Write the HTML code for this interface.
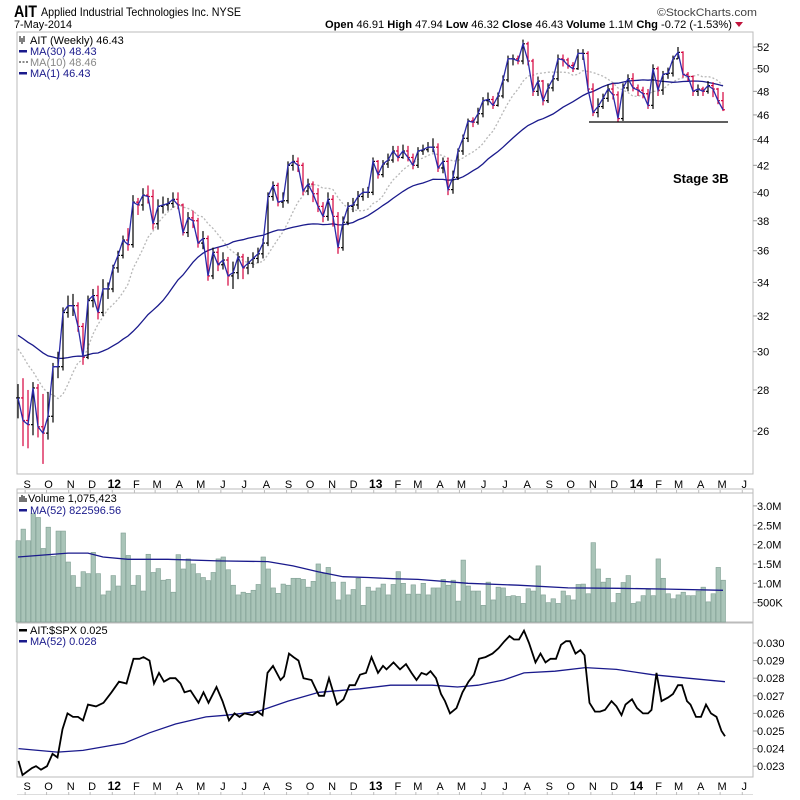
<!DOCTYPE html>
<html><head><meta charset="utf-8"><style>
body{margin:0;background:#fff;width:800px;height:795px;overflow:hidden;font-family:"Liberation Sans",sans-serif;}
svg text{font-family:"Liberation Sans",sans-serif;}
</style></head><body>
<svg id="chart" width="800" height="795" viewBox="0 0 800 795" xmlns="http://www.w3.org/2000/svg">
<rect x="0" y="0" width="800" height="795" fill="#fff"/>
<text x="14" y="17" font-size="17" font-weight="bold" textLength="23" lengthAdjust="spacingAndGlyphs">AIT</text>
<text x="41" y="16" font-size="12" textLength="200" lengthAdjust="spacingAndGlyphs">Applied Industrial Technologies Inc. NYSE</text>
<text x="657" y="16" font-size="11" fill="#444" textLength="100" lengthAdjust="spacingAndGlyphs">©StockCharts.com</text>
<text x="14" y="28" font-size="11" textLength="58" lengthAdjust="spacingAndGlyphs">7-May-2014</text>
<text x="325" y="28" font-size="11" textLength="407" lengthAdjust="spacingAndGlyphs"><tspan font-weight="bold">Open</tspan> 46.91 <tspan font-weight="bold">High</tspan> 47.94 <tspan font-weight="bold">Low</tspan> 46.32 <tspan font-weight="bold">Close</tspan> 46.43 <tspan font-weight="bold">Volume</tspan> 1.1M <tspan font-weight="bold">Chg</tspan> -0.72 (-1.53%)</text>
<path d="M735,22 L743,22 L739,27 Z" fill="#c0143c"/>
<g id="price"></g>
<g id="vol"></g>
<g id="rel"></g>
</svg>
<script>
const closes=[27.6,26.5,26.3,28.1,26.2,25.9,26.7,29.2,29.2,32.2,32.6,32.6,31.4,29.7,32.9,33.2,32.2,33.6,33.6,34.9,35.7,36.7,36.4,39.3,39.1,39.8,39.7,37.8,39.0,39.1,39.2,39.5,39.1,37.2,38.2,38.0,36.5,36.8,34.4,35.9,35.1,35.4,34.4,34.6,35.6,34.9,35.2,35.5,35.8,36.5,
39.7,40.5,39.3,39.4,42.0,42.3,42.0,40.1,40.6,39.9,39.0,38.3,39.5,38.3,36.2,37.9,39.0,39.1,39.7,40.0,40.0,42.3,41.3,42.1,42.4,43.1,42.6,43.1,42.6,42.0,43.1,43.2,43.4,43.4,41.8,42.3,40.2,41.1,43.1,44.1,45.5,45.4,46.1,
47.2,47.3,46.8,47.6,49.0,50.9,50.9,50.7,52.3,50.7,48.0,48.9,47.2,48.3,49.1,50.9,50.8,50.3,50.0,51.4,51.4,48.2,46.2,46.7,47.4,48.2,47.7,45.7,48.3,49.1,48.3,48.1,47.8,46.8,50.0,48.1,49.5,49.6,50.9,51.5,49.5,49.3,48.0,48.2,48.0,48.5,48.2,47.2,46.43];
const highs=[28.3,28.6,28.0,28.4,28.3,27.8,27.9,29.4,30.0,32.5,33.2,33.3,32.8,31.6,33.2,33.6,33.8,34.2,34.0,35.1,36.0,37.0,37.5,39.8,39.6,40.3,40.5,40.2,39.5,39.7,39.6,40.0,40.0,39.2,38.6,38.7,38.2,37.3,37.0,36.2,36.2,35.9,35.6,35.3,35.9,35.8,35.6,35.9,36.2,36.8,
40.0,40.8,40.7,40.0,42.3,42.8,42.6,42.2,41.0,40.8,40.3,39.3,40.0,39.8,38.6,38.3,39.3,39.6,40.1,40.3,40.4,42.6,42.4,42.4,42.9,43.5,43.5,43.6,43.5,42.9,43.4,43.6,43.8,44.1,43.7,42.6,42.6,41.6,43.3,44.4,45.7,45.8,46.6,
47.5,47.9,47.6,47.9,49.4,51.2,51.3,51.2,52.7,52.5,50.9,49.3,49.0,48.7,49.4,51.3,51.3,51.0,50.6,51.8,51.8,51.6,48.7,47.4,47.8,48.6,48.7,48.0,48.7,49.5,49.6,48.6,48.4,48.2,50.4,50.2,49.8,50.1,51.2,52.0,51.6,49.7,49.4,48.6,48.4,48.9,48.8,48.3,47.94];
const lows=[26.6,25.3,25.2,25.8,25.7,24.5,25.6,26.4,28.6,29.0,31.9,32.0,31.1,29.3,29.6,32.5,31.8,32.0,33.0,33.4,34.6,35.5,36.0,36.2,38.4,38.7,39.2,37.4,37.4,38.5,38.7,38.9,38.8,37.0,36.9,37.5,36.2,36.1,34.1,34.2,34.7,34.8,33.8,33.6,34.2,34.2,34.5,34.9,35.2,35.5,
36.3,39.4,39.0,38.9,39.2,41.6,41.5,39.8,39.8,39.3,38.6,37.9,38.0,37.6,35.8,36.0,37.7,38.6,38.8,39.4,39.6,39.8,41.0,41.1,41.8,42.2,42.3,42.5,42.3,41.7,41.8,42.8,43.0,43.0,41.5,41.4,39.8,39.9,40.9,42.8,43.8,45.0,45.2,
45.8,46.8,46.5,46.7,47.4,48.8,50.3,50.4,50.4,50.3,47.6,47.6,46.8,47.0,48.0,48.9,50.2,50.0,49.7,49.9,50.8,48.0,45.9,45.8,46.5,47.1,47.3,45.4,45.5,48.0,48.0,47.6,47.4,46.5,46.5,47.6,47.7,49.1,49.3,50.9,49.2,48.9,47.6,47.6,47.6,47.8,47.5,46.9,46.32];
const priorCloses=[32,32.5,33,32.5,32,31.5,31,31.5,32,31.5,31,30.5,30,30.5,31,31.5,30.5,30,30,31,30.5,31,31.5,30.5,30,29.5,30,31,30];
const volumes=[2.1,2.4,2.1,2.8,2.7,1.9,2.45,1.7,2.35,2.35,1.55,1.2,0.9,1.3,1.25,1.8,1.25,0.7,0.8,1.2,0.93,2.3,1.72,0.95,1.2,0.8,1.75,1.28,1.38,1.08,1.1,0.77,1.74,1.37,1.63,1.5,1.25,1.15,1.07,1.28,1.63,1.68,1.35,0.95,0.7,0.77,0.74,0.82,0.97,1.68,1.37,0.88,0.74,0.98,0.95,1.13,1.13,1.1,0.9,1.05,1.5,1.25,1.41,1.03,0.57,1.03,0.7,0.84,1.13,0.43,0.9,0.8,0.88,0.98,0.7,0.97,1.3,1.0,0.72,0.96,0.72,1.0,0.7,0.88,0.88,1.1,0.95,1.08,0.54,1.6,0.93,0.8,0.8,0.43,1.03,0.57,0.9,0.88,0.66,0.68,0.66,0.48,0.86,0.8,1.45,0.7,0.5,0.6,0.48,0.8,0.68,0.57,0.97,0.98,0.73,2.05,1.37,1.03,1.13,0.5,0.74,1.02,1.2,0.48,0.52,0.68,0.84,0.68,1.63,1.13,0.73,0.6,0.7,0.77,0.68,0.68,0.8,0.9,0.52,0.73,1.41,1.08];
const volMAWeeks=[0,10,14,17,22,30,40,50,55,60,65,70,75,80,90,100,110,120,130,141];
const volMAValues=[1.68,1.78,1.78,1.68,1.62,1.62,1.58,1.56,1.45,1.3,1.17,1.15,1.12,1.1,1.0,0.95,0.88,0.87,0.85,0.82];
const ratioWeeks=[0.1,0.9,2.8,3.6,4.6,5.8,6.9,7.9,8.9,9.9,11,12,13,14,15.6,17.1,18.7,20.2,21.7,23.1,24.3,25.1,26.3,27.2,28.2,29.2,30.4,31.5,32.5,33.3,34.5,36.1,37.1,38.1,39.7,40.9,42.2,43.3,44.3,45.3,46.9,47.9,48.9,49.9,51,52.5,53.2,54.2,55.1,56.1,57.1,58.7,60.2,61.2,62.2,63.8,65.1,66.3,67.4,68.4,69.6,70.7,72,73,73.7,75.1,76.4,77.6,78.7,79.7,80.7,81.7,82.5,83.6,84.6,85.4,86.4,87.7,88.9,90.1,91.2,92.2,93.5,94.9,96.1,97.3,98.3,99.2,100.2,101.2,102.2,103.5,104.5,105.5,106.5,107.6,108.6,109.6,110.4,111.5,112.5,113.3,114.3,115.4,116.4,117.4,118.7,119.7,120.7,121.5,122.8,123.8,125,126,126.7,127.7,128.7,130,131,132,132.8,133.8,134.5,135.6,136.6,137.6,138.6,139.7,140.7,141.4];
const ratioValues=[0.0233,0.0225,0.0229,0.0230,0.0228,0.0230,0.0237,0.0235,0.0251,0.0260,0.0258,0.0258,0.0256,0.0265,0.0264,0.0266,0.0272,0.0278,0.0277,0.0291,0.0291,0.0292,0.0290,0.0277,0.0283,0.0278,0.0280,0.0280,0.0277,0.0272,0.0273,0.0266,0.0272,0.0266,0.0275,0.0267,0.0256,0.0260,0.0258,0.0260,0.0259,0.0261,0.0259,0.0283,0.0287,0.0279,0.0281,0.0294,0.0292,0.0290,0.0280,0.0279,0.0270,0.0270,0.0280,0.0265,0.0268,0.0276,0.0276,0.0282,0.0283,0.0292,0.0283,0.0287,0.0285,0.0289,0.0285,0.0288,0.0283,0.0279,0.0283,0.0282,0.0284,0.0280,0.0271,0.0267,0.0260,0.0263,0.0272,0.0278,0.0282,0.0291,0.0292,0.0294,0.0297,0.0301,0.0304,0.0302,0.0302,0.0307,0.0300,0.0289,0.0294,0.0289,0.0291,0.0291,0.0299,0.0301,0.0301,0.0294,0.0296,0.0293,0.0266,0.0261,0.0261,0.0262,0.0267,0.0264,0.0259,0.0265,0.0268,0.0263,0.0260,0.0260,0.0262,0.0283,0.0267,0.0269,0.0271,0.0276,0.0276,0.0267,0.0265,0.0258,0.0258,0.0265,0.0260,0.0258,0.0250,0.0247];
const ratioMAWeeks=[0.1,7.9,13,21.2,26.3,31.5,37.6,41.7,47.9,54,60.2,68.4,74.5,82.8,87.9,92,97.1,101.2,107.4,113.5,119.7,126.9,134,141.4];
const ratioMAValues=[0.0240,0.0238,0.0239,0.0243,0.0249,0.0254,0.0258,0.0259,0.0261,0.0267,0.0272,0.0274,0.0276,0.0276,0.0275,0.0276,0.0279,0.0283,0.0284,0.0286,0.0285,0.0282,0.0280,0.0278];
const priceTicks=[26,28,30,32,34,36,38,40,42,44,46,48,50,52];
const volTicks=[0.5,1.0,1.5,2.0,2.5,3.0];
const volTickLabels=["500K","1.0M","1.5M","2.0M","2.5M","3.0M"];
const ratioTicks=[0.023,0.024,0.025,0.026,0.027,0.028,0.029,0.030];
const monthLabels=["S","O","N","D","12","F","M","A","M","J","J","A","S","O","N","D","13","F","M","A","M","J","J","A","S","O","N","D","14","F","M","A","M","J"];
const monthDates=["2011-09-01","2011-10-01","2011-11-01","2011-12-01","2012-01-01","2012-02-01","2012-03-01","2012-04-01","2012-05-01","2012-06-01","2012-07-01","2012-08-01","2012-09-01","2012-10-01","2012-11-01","2012-12-01","2013-01-01","2013-02-01","2013-03-01","2013-04-01","2013-05-01","2013-06-01","2013-07-01","2013-08-01","2013-09-01","2013-10-01","2013-11-01","2013-12-01","2014-01-01","2014-02-01","2014-03-01","2014-04-01","2014-05-01","2014-06-01"];

const NS="http://www.w3.org/2000/svg";
const L=17,R=753;
function mk(parent,tag,attrs){const e=document.createElementNS(NS,tag);for(const k in attrs)e.setAttribute(k,attrs[k]);parent.appendChild(e);return e;}
const xW=i=>18+5*i;
const d0=new Date("2011-08-22").getTime();
const xDate=s=>18+(new Date(s).getTime()-d0)/864e5/7*5;
const yP=p=>47+554*Math.log(52/p);
const yV=v=>622-38.7*v;
const yR=v=>643+(0.030-v)*17600;

function frame(g,top,bot,axisY){
  const r=mk(g,'rect',{x:L,y:top,width:R-L,height:bot-top,fill:'none',stroke:'#bbb','stroke-width':1});
  
  
  if(axisY){
    const ax=mk(g,'g',{});
    
    
    mk(ax,'line',{x1:L,x2:R,y1:axisY+5,y2:axisY+5,stroke:'#bbb'});
    for(let i=0;i<monthLabels.length;i++){
      const x=xDate(monthDates[i]);
      const bold=/\d/.test(monthLabels[i]);
      const t=mk(ax,'text',{x:x+2,y:axisY,'font-size':bold?12:11,'font-weight':bold?'bold':'normal','text-anchor':'middle',fill:'#000'});
      t.textContent=monthLabels[i];
      
      
      mk(ax,'line',{x1:x,x2:x,y1:axisY+2,y2:axisY+5,stroke:'#bbb'});
    }
  }
}
function ytick(g,y,label){
  mk(g,'line',{x1:R,x2:R+4,y1:y,y2:y,stroke:'#999'});
  const t=mk(g,'text',{x:R+4,y:y+4,'font-size':11,fill:'#000'});
  t.textContent=label;
  
  
}
function poly(g,pts,attrs,name){
  const p=mk(g,'polyline',Object.assign({points:pts.map(q=>q[0].toFixed(1)+','+q[1].toFixed(1)).join(' '),fill:'none'},attrs));
  
  
  return p;
}
function legend(g,x,y,txt,color,sym){
  if(sym==='line')mk(g,'rect',{x:x,y:y-5,width:8,height:2.5,fill:color});
  if(sym==='dots')mk(g,'line',{x1:x,x2:x+9,y1:y-4,y2:y-4,stroke:color,'stroke-width':2,'stroke-dasharray':'2,1.5'});
  const t=mk(g,'text',{x:x+11,y:y,'font-size':11,fill:color});
  t.textContent=txt;
  
  
}

/* PRICE PANEL */
const gp=document.getElementById('price');
frame(gp,32,474,488);
priceTicks.forEach(p=>ytick(gp,yP(p),String(p)));
const all=priorCloses.concat(closes);
function ma(n,i){const k=i+priorCloses.length;let s=0,c=0;for(let j=Math.max(0,k-n+1);j<=k;j++){s+=all[j];c++;}return s/c;}
poly(gp,closes.map((c,i)=>[xW(i),yP(ma(10,i))]),{stroke:'#b8b8b8','stroke-width':1.3,'stroke-dasharray':'2,2'},'ma10-line');
poly(gp,closes.map((c,i)=>[xW(i),yP(ma(30,i))]),{stroke:'#1a1a8c','stroke-width':1.3},'ma30-line');
for(let i=0;i<closes.length;i++){
  const prev=i>0?closes[i-1]:closes[0];
  const col=closes[i]<prev?'#d4003c':'#000';
  const g=mk(gp,'g',{stroke:col,'stroke-width':1.2});
  
  
  const x=xW(i);
  mk(g,'line',{x1:x,x2:x,y1:yP(highs[i]),y2:yP(lows[i])});
  mk(g,'line',{x1:x-2,x2:x,y1:yP(prev),y2:yP(prev)});
  mk(g,'line',{x1:x,x2:x+2,y1:yP(closes[i]),y2:yP(closes[i])});
}
poly(gp,closes.map((c,i)=>[xW(i),yP(c)]),{stroke:'#2a2aa8','stroke-width':1.3},'close-line');
const sup=mk(gp,'line',{x1:589,x2:728,y1:122,y2:122,stroke:'#000','stroke-width':1.3});


const st=mk(gp,'text',{x:673,y:183,'font-size':13,'font-weight':'bold'});
st.textContent='Stage 3B';


legend(gp,19,44,'AIT (Weekly) 46.43','#000','none');
mk(gp,'path',{d:'M20,36 v6 M22,38 v6 M24,36 v6',stroke:'#000','stroke-width':1});
legend(gp,19,55,'MA(30) 48.43','#1a1a8c','line');
legend(gp,19,66,'MA(10) 48.46','#888','dots');
legend(gp,19,77,'MA(1) 46.43','#1a1a8c','line');

/* VOLUME PANEL */
const gv=document.getElementById('vol');
frame(gv,489,622,null);
volTicks.forEach((v,i)=>ytick(gv,yV(v),volTickLabels[i]));
for(let i=0;i<volumes.length;i++){
  const r=mk(gv,'rect',{x:xW(i)-2,y:yV(volumes[i]),width:4.5,height:622-yV(volumes[i]),fill:'#a9c4b8',stroke:'#7f9e92','stroke-width':0.6});
  
  
}
poly(gv,volMAWeeks.map((w,i)=>[xW(w),yV(volMAValues[i])]),{stroke:'#1a1a8c','stroke-width':1.3},'volume-ma-line');
mk(gv,'path',{d:'M20,502 v-5 M22,502 v-7 M24,502 v-6 M26,502 v-4',stroke:'#444','stroke-width':1.5});
legend(gv,17,502,'Volume 1,075,423','#000','none');
legend(gv,19,514,'MA(52) 822596.56','#1a1a8c','line');

/* RELATIVE STRENGTH PANEL */
const gr=document.getElementById('rel');
frame(gr,623,777,790);
ratioTicks.forEach(v=>ytick(gr,yR(v),v.toFixed(3)));
poly(gr,ratioMAWeeks.map((w,i)=>[xW(w),yR(ratioMAValues[i])]),{stroke:'#1a1a8c','stroke-width':1.3},'ratio-ma-line');
poly(gr,ratioWeeks.map((w,i)=>[xW(w),yR(ratioValues[i])]),{stroke:'#000','stroke-width':1.8},'ratio-line');
legend(gr,19,634,'AIT:$SPX 0.025','#000','line');
legend(gr,19,645,'MA(52) 0.028','#1a1a8c','line');
</script>
</body></html>
